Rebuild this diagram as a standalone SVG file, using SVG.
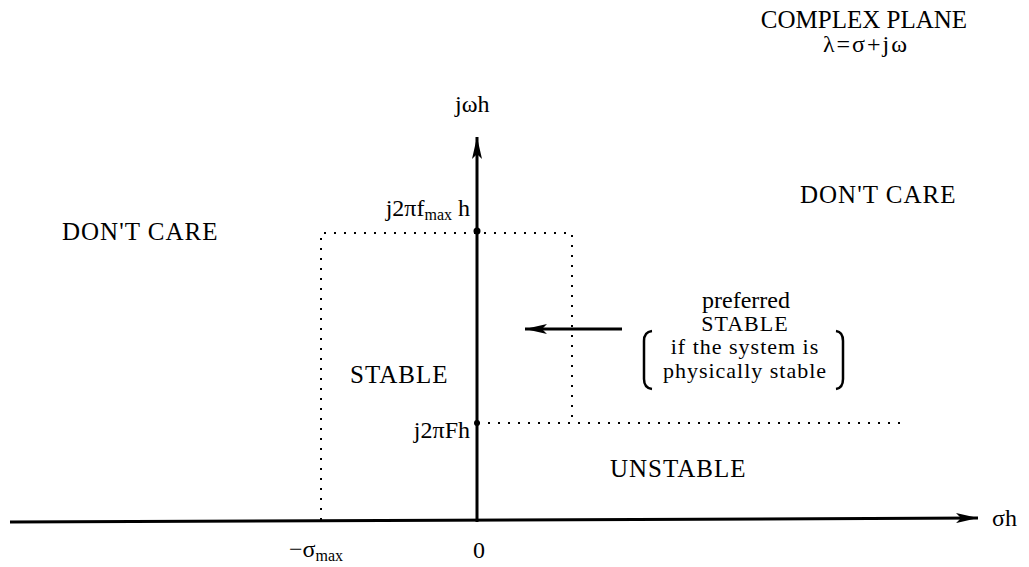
<svg xmlns="http://www.w3.org/2000/svg" width="1029" height="567" viewBox="0 0 1029 567">
<style>
text{font-family:"Liberation Serif","Times New Roman",serif;font-size:24px;fill:#000}
.big{font-size:25px;letter-spacing:1px}
.br{font-size:22px;letter-spacing:1px}
.sub{font-size:16px}
.dot{stroke:#000;stroke-width:2;stroke-dasharray:2 8;fill:none}
.ax{stroke:#000;stroke-width:3;fill:none}
</style>
<defs>
<marker id="ah" markerWidth="24" markerHeight="10" refX="22" refY="5" orient="auto" markerUnits="userSpaceOnUse">
<path d="M0,0 L22,5 L0,10 L5,5 Z" fill="#000"/>
</marker>
</defs>
<g id="connectors">
<line class="ax" x1="10" y1="522" x2="978" y2="518" marker-end="url(#ah)"/>
<line class="ax" x1="477" y1="522" x2="477" y2="137" marker-end="url(#ah)"/>
<line class="ax" x1="622" y1="329" x2="525" y2="329" marker-end="url(#ah)"/>
<path class="dot" d="M321,520 L321,233 L572,233 L572,424"/>
<line class="dot" x1="478" y1="423" x2="905" y2="423"/>
<circle cx="477" cy="231" r="3.5" fill="#000"/>
<circle cx="477" cy="423" r="3" fill="#000"/>
</g>
<g id="title">
<text x="864" y="28" text-anchor="middle" style="font-size:25px">COMPLEX PLANE</text>
<text x="866" y="52" text-anchor="middle" style="letter-spacing:2px">λ=σ+jω</text>
</g>
<g id="axis-labels">
<text x="455" y="112">jωh</text>
<text x="992" y="526">σh</text>
<text x="473" y="558">0</text>
<text x="289" y="557">−σ<tspan class="sub" dy="4">max</tspan></text>
<text x="470" y="216" text-anchor="end">j2πf<tspan class="sub" dy="4">max</tspan><tspan dy="-4"> h</tspan></text>
<text x="470" y="438" text-anchor="end">j2πFh</text>
</g>
<g id="regions">
<text class="big" x="62" y="240">DON'T CARE</text>
<text class="big" x="800" y="203">DON'T CARE</text>
<text class="big" x="350" y="383">STABLE</text>
<text class="big" x="610" y="477">UNSTABLE</text>
</g>
<g id="preferred">
<text x="746" y="308" text-anchor="middle">preferred</text>
<text class="br" x="745" y="331" text-anchor="middle">STABLE</text>
<text class="br" x="745" y="354" text-anchor="middle">if the system is</text>
<text class="br" x="745" y="378" text-anchor="middle">physically stable</text>
<path d="M652,331 Q644,332 644,341 L644,379 Q644,388 652,389" fill="none" stroke="#000" stroke-width="2.5"/>
<path d="M836,331 Q843,332 843,341 L843,379 Q843,388 836,389" fill="none" stroke="#000" stroke-width="2.5"/>
</g>
</svg>
